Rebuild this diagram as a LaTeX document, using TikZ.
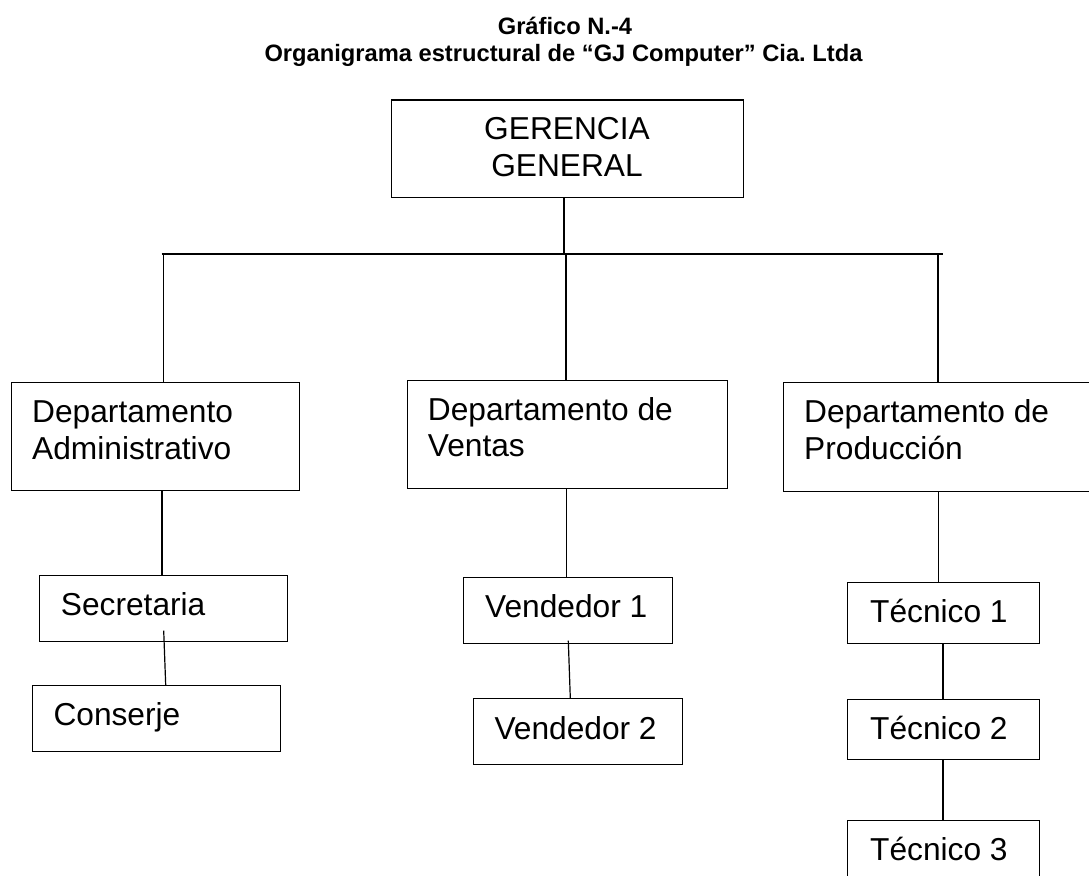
\documentclass[tikz,border=0pt]{standalone}
\usepackage{fontspec}
\setmainfont{Liberation Sans}
\frenchspacing
\begin{document}
\begin{tikzpicture}[x=1pt,y=-1pt,
  box/.style={draw=black, line width=1.4pt, inner sep=0pt, anchor=north west},
  conn/.style={draw=black, line width=1.2pt},
  txt/.style={font=\fontsize{31.7}{36.5}\selectfont, inner sep=0pt, anchor=base west},
  ctxt/.style={font=\fontsize{31.7}{36.5}\selectfont, inner sep=0pt, anchor=base},
  ttl/.style={font=\fontsize{23.7}{27}\selectfont\bfseries, inner sep=0pt, anchor=base}]
\useasboundingbox (0,0) rectangle (1089,875);
\fill[white] (0,0) rectangle (1089,875);

% title
\node[ttl] (t1line) at (565,34.5) {Gráfico N.-4};
\node[ttl] (t2line) at (563.5,62) {Organigrama estructural de “GJ Computer” Cia. Ltda};

% boxes
\node[box, minimum width=352.3pt, minimum height=97.7pt] (ger) at (390.7,99.3) {};
\node[box, minimum width=288pt, minimum height=108pt] (adm) at (11,382) {};
\node[box, minimum width=320.2pt, minimum height=108pt] (ven) at (406.5,380) {};
\node[box, minimum width=320pt, minimum height=108.7pt] (pro) at (782.5,382) {};
\node[box, minimum width=248.3pt, minimum height=65.7pt] (sec) at (38.7,575) {};
\node[box, minimum width=248pt, minimum height=65.7pt] (con) at (32,685) {};
\node[box, minimum width=209pt, minimum height=65.7pt] (v1) at (462.7,577) {};
\node[box, minimum width=209pt, minimum height=66pt] (v2) at (472.7,698) {};
\node[box, minimum width=192pt, minimum height=61pt] (tc1) at (847,581.7) {};
\node[box, minimum width=192pt, minimum height=60pt] (tc2) at (847,699) {};
\node[box, minimum width=192pt, minimum height=80pt] (tc3) at (847,820) {};

% texts
\node[ctxt] (gerA) at (567,139) {GERENCIA};
\node[ctxt] (gerB) at (567,176) {GENERAL};
\node[txt] (admA) at (32,422.3) {Departamento};
\node[txt] (admB) at (32,459) {Administrativo};
\node[txt] (venA) at (427.7,420.7) {Departamento de};
\node[txt] (venB) at (427.7,456.7) {Ventas};
\node[txt] (proA) at (804,422.7) {Departamento de};
\node[txt] (proB) at (804,459) {Producción};
\node[txt] (secT) at (60.7,615.7) {Secretaria};
\node[txt] (conT) at (53.3,725.7) {Conserje};
\node[txt] (v1T) at (485,617.3) {Vendedor 1};
\node[txt] (v2T) at (494.3,739) {Vendedor 2};
\node[txt] (tc1T) at (870,622.3) {Técnico 1};
\node[txt] (tc2T) at (870,739) {Técnico 2};
\node[txt] (tc3T) at (870,860) {Técnico 3};

% connectors
\coordinate (bus) at (564,254);
\coordinate (busL) at (161.7,254);
\coordinate (busR) at (943,254);
\coordinate (dA) at (163.7,254);
\coordinate (dV) at (566,254);
\coordinate (dP) at (938,254);
\draw[conn] (ger.south -| bus) -- (bus);
\draw[conn] (busL) -- (busR);
\draw[conn] (dA) -- (dA |- adm.north);
\draw[conn] (dV) -- (dV |- ven.north);
\draw[conn] (dP) -- (dP |- pro.north);

\coordinate (xa) at (162,0);
\draw[conn] (adm.south -| xa) -- (sec.north -| xa);
\coordinate (s1) at (163.7,630.7);
\coordinate (c1) at (165.7,685);
\draw[conn] (s1) -- (c1);

\coordinate (xv) at (566.5,0);
\draw[conn] (ven.south -| xv) -- (v1.north -| xv);
\coordinate (v1b) at (568.3,640.7);
\coordinate (v2t) at (570.3,698);
\draw[conn] (v1b) -- (v2t);

\coordinate (xp) at (938.3,0);
\draw[conn] (pro.south -| xp) -- (tc1.north -| xp);
\coordinate (xt) at (943,0);
\draw[conn] (tc1.south -| xt) -- (tc2.north -| xt);
\draw[conn] (tc2.south -| xt) -- (tc3.north -| xt);
\end{tikzpicture}
\end{document}
